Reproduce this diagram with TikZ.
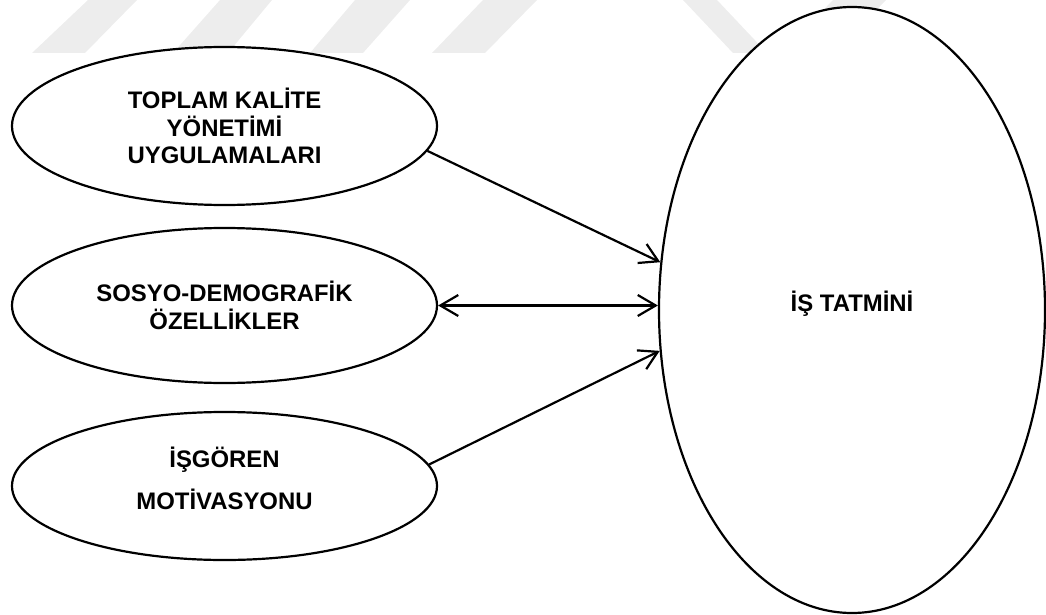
\documentclass[tikz,border=0pt]{standalone}
\usepackage{fontspec}
\setmainfont{Liberation Sans}
\usetikzlibrary{shapes.geometric,arrows.meta}
\tikzset{
  oval/.style={draw, ellipse, line width=2.2pt, fill=white, inner sep=0pt,
    align=center, font=\fontsize{23.9}{27.5}\selectfont\bfseries},
  barb/.tip={Straight Barb[length=18pt,width=21pt,line width=2.2pt]},
  conn/.style={line width=2.2pt, -barb},
  wm/.style={fill=black!7, draw=none}
}
\begin{document}
\begin{tikzpicture}[x=1pt,y=-1pt]
\useasboundingbox (0,0) rectangle (1046,615);
% watermark stripes
\fill[wm] (32,53) -- (85,53) -- (137,0) -- (88,0) -- cycle;
\fill[wm] (173,53) -- (228,53) -- (272,0) -- (220,0) -- cycle;
\fill[wm] (310,53) -- (363,53) -- (410,0) -- (355,0) -- cycle;
\fill[wm] (432,53) -- (485,53) -- (537,0) -- (483,0) -- cycle;
\fill[wm] (683,0) -- (717,0) -- (767,53) -- (733,53) -- cycle;
\fill[wm] (833,0) -- (886,0) -- (835,53) -- (782,53) -- cycle;
% nodes
\node[oval, minimum width=425pt, minimum height=158pt] (e1) at (224.5,126)
  {TOPLAM KALİTE\\YÖNETİMİ\\UYGULAMALARI};
\node[oval, minimum width=425pt, minimum height=155pt] (e2) at (224.5,305.5)
  {SOSYO-DEMOGRAFİK\\ÖZELLİKLER};
\node[oval, minimum width=425pt, minimum height=148pt] (e3) at (224.5,486)
  {İŞGÖREN\\[14.5pt]MOTİVASYONU\rule[-15.5pt]{0pt}{0pt}};
\node[oval, minimum width=386pt, minimum height=606pt] (big) at (852,310)
  {İŞ TATMİNİ\rule[-17pt]{0pt}{0pt}};
% connectors
\draw[conn] (e1.-7.9) -- (big.166);
\draw[conn, barb-barb] (e2.east) -- (big.west |- e2.east);
\draw[conn] (e3.6.8) -- (big.192.8);
\end{tikzpicture}
\end{document}
